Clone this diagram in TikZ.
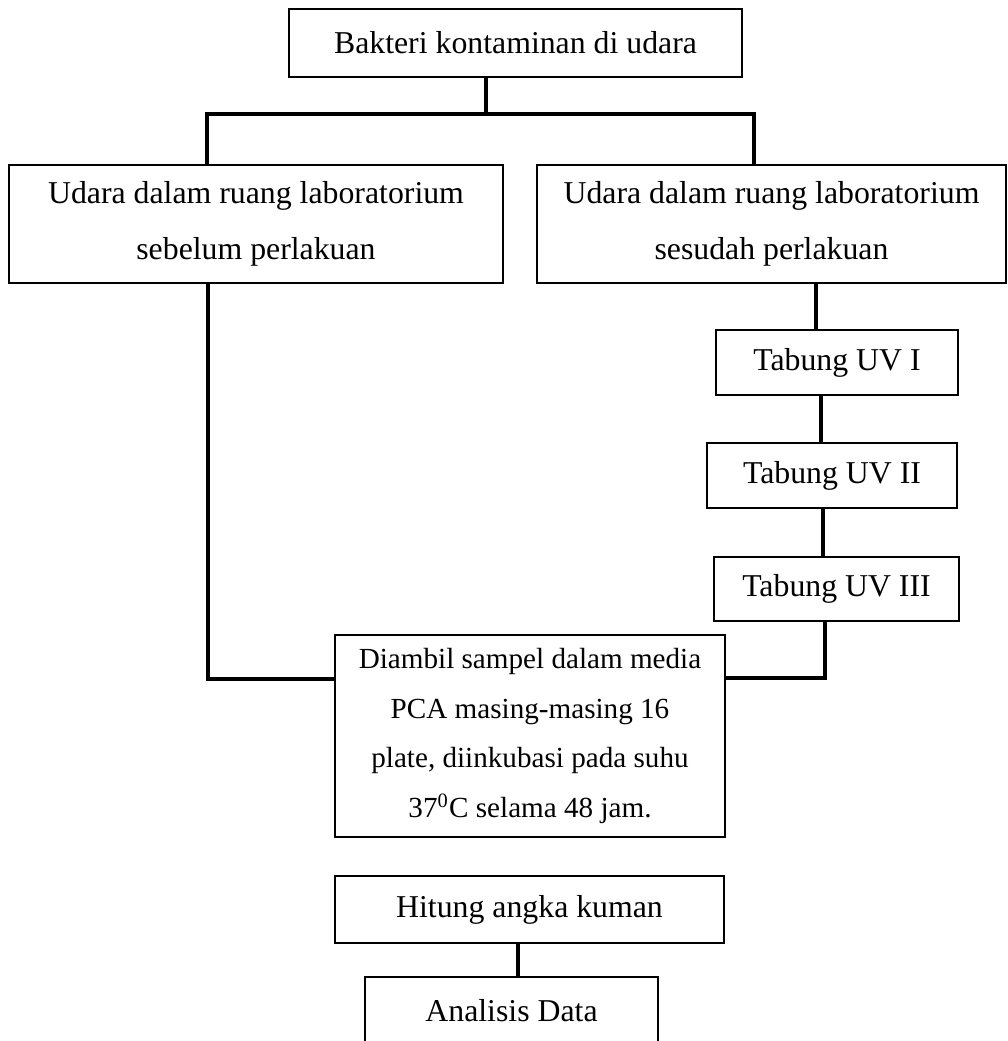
\documentclass[tikz,border=0pt]{standalone}
\usepackage{fontspec}
\setmainfont{Liberation Serif}
\newcommand{\pxu}{0.3774pt}
\begin{document}
\begin{tikzpicture}[x=0.3774pt,y=-0.3774pt]
				\tikzstyle{box}=[draw,line width=0.6pt,inner sep=0pt,align=center,
				font=\fontsize{12}{21}\selectfont]
				\tikzstyle{smallbox}=[box,font=\fontsize{11}{18.8}\selectfont]
				\tikzstyle{link}=[line width=1.5pt]
				\useasboundingbox (0,0) rectangle (1008,1041);
				% boxes
				\node[box,minimum width=453*\pxu,minimum height=68*\pxu] (bakteri) at (515.5,43) {Bakteri kontaminan di udara};
				\node[box,minimum width=494*\pxu,minimum height=118*\pxu] (sebelum) at (256,224)
				{Udara dalam ruang laboratorium\\sebelum perlakuan};
				\node[box,minimum width=469*\pxu,minimum height=118*\pxu] (sesudah) at (771.5,224)
				{Udara dalam ruang laboratorium\\sesudah perlakuan};
				\node[box,minimum width=242*\pxu,minimum height=65*\pxu] (uvi) at (837,362.5) {Tabung UV I};
				\node[box,minimum width=250*\pxu,minimum height=65*\pxu] (uvii) at (832,475.5) {Tabung UV II};
				\node[box,minimum width=245*\pxu,minimum height=64*\pxu] (uviii) at (836.5,589) {Tabung UV III};
				\node[smallbox,minimum width=390*\pxu,minimum height=202*\pxu] (sampel) at (530,736)
				{Diambil sampel dalam media\\PCA masing-masing 16\\plate, diinkubasi pada suhu\\37\textsuperscript{0}C selama 48 jam.};
				\node[box,minimum width=389*\pxu,minimum height=67*\pxu] (hitung) at (529.5,909.5) {Hitung angka kuman};
				\node[box,minimum width=293*\pxu,minimum height=67*\pxu] (analisis) at (511.5,1010.5) {Analisis Data};
				% junctions
				\coordinate (jtop) at (486,114);
				\coordinate (jl) at (207,114);
				\coordinate (jr) at (754,114);
				\coordinate (jbl) at (208,679);
				\coordinate (jbr) at (825,678);
				\coordinate (cuvi) at (816,0);
				\coordinate (cuvii) at (821,0);
				\coordinate (cuviii) at (823,0);
				\coordinate (cdata) at (518,0);
				% connectors
				\draw[link] (bakteri.south -| jtop) -- (jtop);
				\draw[link] (sebelum.north -| jl) -- (jl) -- (jr) -- (sesudah.north -| jr);
				\draw[link] (sebelum.south -| jbl) -- (jbl) -- (sampel.west |- jbl);
				\draw[link] (sesudah.south -| cuvi) -- (uvi.north -| cuvi);
				\draw[link] (uvi.south -| cuvii) -- (uvii.north -| cuvii);
				\draw[link] (uvii.south -| cuviii) -- (uviii.north -| cuviii);
				\draw[link] (uviii.south -| jbr) -- (jbr) -- (sampel.east |- jbr);
				\draw[link] (hitung.south -| cdata) -- (analisis.north -| cdata);
			\end{tikzpicture}
\end{document}
